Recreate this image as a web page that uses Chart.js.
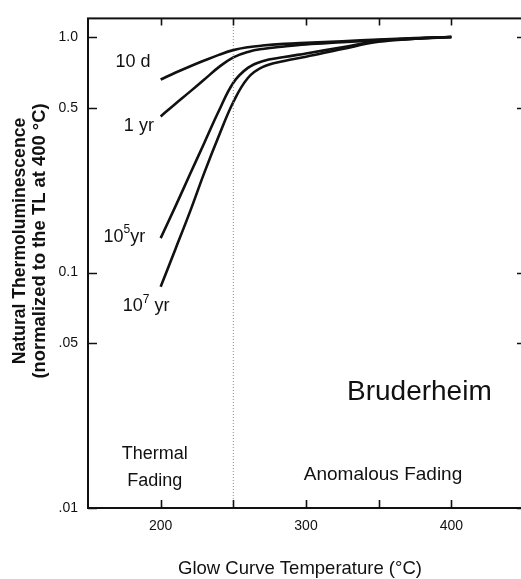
<!DOCTYPE html>
<html>
<head>
<meta charset="utf-8">
<script src="https://cdn.jsdelivr.net/npm/chart.js@4.4.1/dist/chart.umd.min.js"></script>
<style>
  html, body { margin: 0; padding: 0; background: #fff; overflow: hidden; }
  #wrap { width: 521px; height: 579px; overflow: hidden; }
  canvas { display: block; }
</style>
</head>
<body>
<div id="wrap"><canvas id="glow" width="530" height="579"></canvas></div>
<script>
// glow curve temperature (°C)
const temps = [200, 210, 220, 230, 240, 250, 260, 270, 285, 300, 325, 350, 375, 400];

// natural TL normalised to the TL at 400 °C, one list per storage time
const tl10d   = [0.66, 0.705, 0.75, 0.795, 0.84, 0.88, 0.905, 0.92, 0.935, 0.945, 0.96, 0.975, 0.99, 1.0];
const tl1yr   = [0.46, 0.52, 0.585, 0.66, 0.745, 0.82, 0.865, 0.89, 0.912, 0.93, 0.95, 0.97, 0.985, 1.0];
const tl1e5yr = [0.14, 0.19, 0.26, 0.355, 0.485, 0.64, 0.74, 0.79, 0.822, 0.852, 0.905, 0.962, 0.985, 1.0];
const tl1e7yr = [0.087, 0.125, 0.18, 0.265, 0.38, 0.53, 0.67, 0.745, 0.792, 0.825, 0.89, 0.955, 0.983, 1.0];

const xTicks = [200, 250, 300, 350, 400];
const xTickLabels = ['200', '', '300', '', '400'];
const yTicks = [0.01, 0.05, 0.1, 0.5, 1.0];
const yTickLabels = ['.01', '.05', '0.1', '0.5', '1.0'];

// boundary between thermal and anomalous fading
const boundaryTemp = 250;

const FONT = '"Liberation Sans", Arial, Helvetica, sans-serif';

function curve(values) {
    return {
        data: temps.map(function (t, i) { return { x: t, y: values[i] }; }),
        borderColor: '#111',
        borderWidth: 2.6,
        pointRadius: 0,
        tension: 0.4,
        fill: false
    };
}

// text placed at data coordinates; parts flagged sup are raised
const notes = [
    { x: 181, y: 0.78,  size: 18, parts: [{ t: '10 d' }] },
    { x: 185, y: 0.42,  size: 18, parts: [{ t: '1 yr' }] },
    { x: 175, y: 0.142, size: 18, parts: [{ t: '10' }, { t: '5', sup: true }, { t: 'yr' }] },
    { x: 190, y: 0.072, size: 18, parts: [{ t: '10' }, { t: '7', sup: true }, { t: ' yr' }] },
    { x: 378, y: 0.031, size: 28, parts: [{ t: 'Bruderheim' }] },
    { x: 196, y: 0.0170, size: 18, parts: [{ t: 'Thermal' }] },
    { x: 196, y: 0.0130, size: 18, parts: [{ t: 'Fading' }] },
    { x: 353, y: 0.0139, size: 19, parts: [{ t: 'Anomalous Fading' }] }
];

function drawParts(ctx, cx, cy, size, parts) {
    const supSize = Math.round(size * 0.65);
    let total = 0;
    parts.forEach(function (p) {
        ctx.font = (p.sup ? supSize : size) + 'px ' + FONT;
        p.w = ctx.measureText(p.t).width;
        total += p.w;
    });
    let x = cx - total / 2;
    ctx.textBaseline = 'middle';
    ctx.textAlign = 'left';
    parts.forEach(function (p) {
        ctx.font = (p.sup ? supSize : size) + 'px ' + FONT;
        ctx.fillText(p.t, x, p.sup ? cy - size * 0.38 : cy);
        x += p.w;
    });
}

function rotatedText(ctx, text, x, y, font) {
    ctx.save();
    ctx.translate(x, y);
    ctx.rotate(-Math.PI / 2);
    ctx.font = font;
    ctx.fillText(text, 0, 0);
    ctx.restore();
}

const framePlugin = {
    id: 'frame',
    afterDraw(chart) {
        const ctx = chart.ctx;
        const a = chart.chartArea;
        const xs = chart.scales.x;
        const ys = chart.scales.y;
        ctx.save();
        ctx.strokeStyle = '#111';
        ctx.lineWidth = 2;
        ctx.strokeRect(a.left, a.top, a.right - a.left, a.bottom - a.top);

        // inward ticks on all four sides
        ctx.lineWidth = 1.6;
        ctx.beginPath();
        xs.ticks.forEach(function (t) {
            const px = Math.round(xs.getPixelForValue(t.value)) + 0.5;
            ctx.moveTo(px, a.bottom); ctx.lineTo(px, a.bottom - 8);
            ctx.moveTo(px, a.top); ctx.lineTo(px, a.top + 7);
        });
        ys.ticks.forEach(function (t) {
            const py = Math.round(ys.getPixelForValue(t.value)) + 0.5;
            ctx.moveTo(a.left, py); ctx.lineTo(a.left + 9, py);
            ctx.moveTo(a.right, py); ctx.lineTo(a.right - 7, py);
        });
        ctx.stroke();

        ctx.fillStyle = '#111';
        notes.forEach(function (n) {
            drawParts(ctx, xs.getPixelForValue(n.x), ys.getPixelForValue(n.y), n.size, n.parts);
        });

        // axis titles
        ctx.textAlign = 'center';
        ctx.textBaseline = 'middle';
        ctx.font = '18.5px ' + FONT;
        ctx.fillText('Glow Curve Temperature (\u00B0C)', 300, 569);

        rotatedText(ctx, 'Natural Thermoluminescence', 20, 241, 'bold 17.6px ' + FONT);
        rotatedText(ctx, '(normalized to the TL at 400 \u00B0C)', 40, 241, 'bold 18.4px ' + FONT);
        ctx.restore();
    }
};

new Chart(document.getElementById('glow'), {
    type: 'line',
    data: {
        datasets: [
            {
                data: [{ x: boundaryTemp, y: 0.01 }, { x: boundaryTemp, y: 1.2 }],
                borderColor: '#8a8a8a',
                borderWidth: 1,
                borderDash: [1, 2],
                pointRadius: 0
            },
            curve(tl10d),
            curve(tl1yr),
            curve(tl1e5yr),
            curve(tl1e7yr)
        ]
    },
    options: {
        responsive: false,
        animation: false,
        layout: { padding: { top: 10, right: 6, left: 0, bottom: 0 } },
        plugins: {
            legend: { display: false },
            tooltip: { enabled: false }
        },
        scales: {
            x: {
                type: 'linear',
                min: 150,
                max: 450,
                afterBuildTicks: function (scale) {
                    scale.ticks = xTicks.map(function (v) { return { value: v }; });
                },
                afterFit: function (scale) { scale.height = 71; },
                grid: { display: false, drawTicks: false },
                border: { display: false },
                ticks: {
                    padding: 10,
                    color: '#111',
                    font: { family: FONT, size: 14 },
                    callback: function (v) { return xTickLabels[xTicks.indexOf(v)]; }
                }
            },
            y: {
                type: 'logarithmic',
                min: 0.01,
                max: 1.2,
                afterBuildTicks: function (scale) {
                    scale.ticks = yTicks.map(function (v) { return { value: v }; });
                },
                afterFit: function (scale) { scale.width = 88; },
                grid: { display: false, drawTicks: false },
                border: { display: false },
                ticks: {
                    padding: 10,
                    color: '#111',
                    font: { family: FONT, size: 14 },
                    callback: function (v) { return yTickLabels[yTicks.indexOf(v)]; }
                }
            }
        }
    },
    plugins: [framePlugin]
});
</script>
</body>
</html>
